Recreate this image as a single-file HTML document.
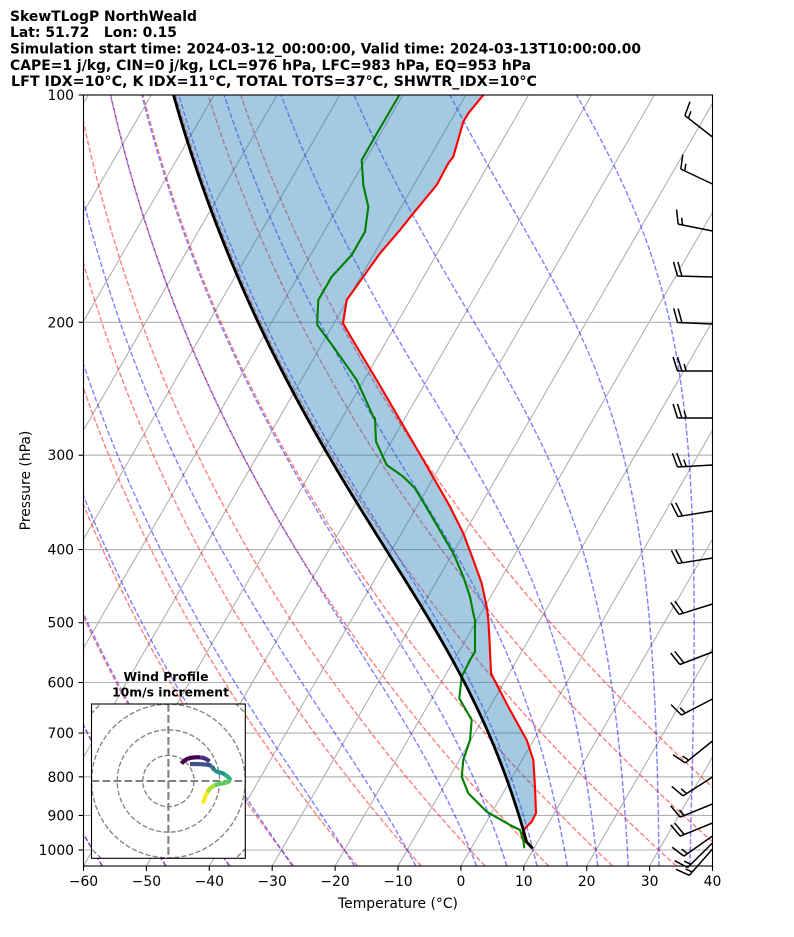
<!DOCTYPE html>
<html><head><meta charset="utf-8">
<style>
html,body{margin:0;padding:0;background:#fff;}
svg{display:block;font-family:"DejaVu Sans","Liberation Sans",sans-serif;}
</style></head>
<body>
<svg id="s" width="794" height="937" viewBox="0 0 794 937" xmlns="http://www.w3.org/2000/svg">
<defs>
<clipPath id="ax"><rect x="83.5" y="95" width="629" height="771"/></clipPath>
<clipPath id="hx"><rect x="91.5" y="704" width="153.8" height="154.3"/></clipPath>
</defs>
<rect width="794" height="937" fill="#fff"/>

<g font-weight="bold" font-size="13.9" fill="#000">
<text x="10" y="21" textLength="187" lengthAdjust="spacingAndGlyphs">SkewTLogP NorthWeald</text>
<text x="10" y="37" textLength="167" lengthAdjust="spacingAndGlyphs">Lat: 51.72&#160;&#160;&#160;Lon: 0.15</text>
<text x="10" y="53.5" textLength="631" lengthAdjust="spacingAndGlyphs">Simulation start time: 2024-03-12_00:00:00, Valid time: 2024-03-13T10:00:00.00</text>
<text x="10" y="70" textLength="521" lengthAdjust="spacingAndGlyphs">CAPE=1 j/kg, CIN=0 j/kg, LCL=976 hPa, LFC=983 hPa, EQ=953 hPa</text>
<text x="11" y="86" textLength="526" lengthAdjust="spacingAndGlyphs">LFT IDX=10°C, K IDX=11°C, TOTAL TOTS=37°C, SHWTR_IDX=10°C</text>
</g>

<g clip-path="url(#ax)">
 <g id="grid" stroke="#b0b0b0" stroke-width="1.1" fill="none"></g>
 <g id="dry" stroke="#ff0000" stroke-opacity="0.5" stroke-width="1.39" stroke-dasharray="5.1 2.2" fill="none"></g>
 <g id="moist" stroke="#0000ff" stroke-opacity="0.5" stroke-width="1.39" stroke-dasharray="5.1 2.2" fill="none"></g>
 <path id="fill" fill="#1f77b4" fill-opacity="0.4" stroke="none"/>
 <path id="Tl" stroke="#ff0000" stroke-width="2.1" fill="none" stroke-linejoin="round"/>
 <path id="Tdl" stroke="#008000" stroke-width="2.1" fill="none" stroke-linejoin="round"/>
 <path id="par" stroke="#000" stroke-width="2.8" fill="none" stroke-linejoin="round"/>
</g>

<rect x="83.5" y="95" width="629" height="771" fill="none" stroke="#000" stroke-width="1.1"/>
<g id="ticks" stroke="#000" stroke-width="1.1"></g>

<g font-size="13.9" fill="#000" text-anchor="end">
<text x="74" y="100">100</text>
<text x="74" y="327.3">200</text>
<text x="74" y="460.2">300</text>
<text x="74" y="554.6">400</text>
<text x="74" y="627.7">500</text>
<text x="74" y="687.5">600</text>
<text x="74" y="738">700</text>
<text x="74" y="781.8">800</text>
<text x="74" y="820.4">900</text>
<text x="74" y="855">1000</text>
</g>
<g font-size="13.9" fill="#000" text-anchor="middle">
<text x="83.5" y="886">−60</text>
<text x="146.4" y="886">−50</text>
<text x="209.3" y="886">−40</text>
<text x="272.2" y="886">−30</text>
<text x="335.1" y="886">−20</text>
<text x="398" y="886">−10</text>
<text x="460.9" y="886">0</text>
<text x="523.8" y="886">10</text>
<text x="586.7" y="886">20</text>
<text x="649.6" y="886">30</text>
<text x="712.5" y="886">40</text>
<text x="398" y="908">Temperature (°C)</text>
<text x="0" y="0" transform="translate(30,480.5) rotate(-90)">Pressure (hPa)</text>
</g>

<g id="barbs" stroke="#000" stroke-width="1.5" fill="none" stroke-linecap="butt"></g>

<!-- hodograph inset -->
<rect x="91.5" y="704" width="153.8" height="154.3" fill="#fff" stroke="none"/>
<g clip-path="url(#hx)" fill="none">
 <g stroke="#808080" stroke-width="1.3" stroke-dasharray="5.1 2.2">
  <circle cx="168.4" cy="781" r="25.6"/>
  <circle cx="168.4" cy="781" r="51.2"/>
  <circle cx="168.4" cy="781" r="76.8"/>
  <circle cx="168.4" cy="781" r="102.4"/>
 </g>
 <g stroke="#808080" stroke-width="2.1" stroke-dasharray="7.7 3.3">
  <line x1="168.4" y1="704" x2="168.4" y2="858.3"/>
  <line x1="91.5" y1="781" x2="245.3" y2="781"/>
 </g>
 <g id="hodo" stroke-width="4.2" stroke-linejoin="round" stroke-linecap="butt" fill="none"></g>
</g>
<rect x="91.5" y="704" width="153.8" height="154.3" fill="none" stroke="#000" stroke-width="1.1"/>
<g font-weight="bold" font-size="12.5" fill="#000" text-anchor="middle">
<text x="166" y="681" textLength="85" lengthAdjust="spacingAndGlyphs">Wind Profile</text>
<text x="170.5" y="696.5" textLength="117" lengthAdjust="spacingAndGlyphs">10m/s increment</text>
</g>
</svg>
<script>
(function(){
const X0=83.5, YT=95, YB=866, K=6.29, SK=0.57735;
function Y(p){return YT+(Math.log10(p)-2)*755;}
function X(T,p){return X0+(T+60)*K+(YB-Y(p))*SK;}
const NS='http://www.w3.org/2000/svg';
function el(tag,attrs,parent){const e=document.createElementNS(NS,tag);for(const k in attrs)e.setAttribute(k,attrs[k]);parent.appendChild(e);return e;}
function D(pts){return 'M'+pts.map(q=>q[0].toFixed(2)+','+q[1].toFixed(2)).join('L');}

// grid
const g=document.getElementById('grid');
for(let T=-180;T<=40;T+=10){el('line',{x1:X(T,1050),y1:YB,x2:X(T,100),y2:YT},g);}
for(let p=100;p<=1000;p+=100){const y=Y(p);el('line',{x1:83.5,y1:y,x2:712.5,y2:y},g);}

// ticks
const tk=document.getElementById('ticks');
for(let p=100;p<=1000;p+=100){const y=Y(p);el('line',{x1:78.6,y1:y,x2:83.5,y2:y},tk);}
for(let T=-60;T<=40;T+=10){const x=X0+(T+60)*K;el('line',{x1:x,y1:866,x2:x,y2:870.9},tk);}

// dry adiabats
const kap=0.28571;
const dry=document.getElementById('dry');
for(let t0=-60;t0<=50;t0+=10){const th=t0+273.15;const pts=[];
 for(let i=0;i<=120;i++){const p=1050-950*i/120;const T=th*Math.pow(p/1000,kap)-273.15;pts.push([X(T,p),Y(p)]);}
 el('path',{d:D(pts)},dry);}

// moist adiabats
const Rd=287.04749,Cp=1004.6662,Lv=2.50084e6,eps=0.6219569;
function es(T){const t=T-273.15;return 6.112*Math.exp(17.67*t/(t+243.5));}
function dTdp(p,T){const e=es(T);const rs=eps*e/(p-e);return (Rd*T+Lv*rs)/(Cp+Lv*Lv*rs*eps/(Rd*T*T))/p;}
function moist(T0,p0,p1,n){const out=[[p0,T0]];let T=T0,p=p0;const h=(p1-p0)/n;
 for(let i=0;i<n;i++){const k1=dTdp(p,T),k2=dTdp(p+h/2,T+h/2*k1),k3=dTdp(p+h/2,T+h/2*k2),k4=dTdp(p+h,T+h*k3);
  T+=h/6*(k1+2*k2+2*k3+k4);p+=h;out.push([p,T]);}
 return out;}
const ml=document.getElementById('moist');
const mt=[-60,-50,-40,-30,-20,-10,0,5,10,15,20,25,30,35,40];
mt.forEach(t0=>{const up=moist(t0+273.15,1000,100,300);const dn=moist(t0+273.15,1000,1050,20);
 const all=dn.slice().reverse().concat(up.slice(1));
 el('path',{d:D(all.map(q=>[X(q[1]-273.15,q[0]),Y(q[0])]))},ml);});

// parcel (bottom -> top)
const ps=994.8,Ts=9.8+273.15,pl=976;
const Tlcl=Ts*Math.pow(pl/ps,kap);
let par=[];
for(let i=0;i<=6;i++){const p=ps-(ps-pl)*i/6;par.push([X(Ts*Math.pow(p/ps,kap)-273.15,p),Y(p)]);}
moist(Tlcl,pl,100,440).slice(1).forEach(q=>par.push([X(q[1]-273.15,q[0]),Y(q[0])]));
document.getElementById('par').setAttribute('d',D(par));

// temperature (top -> bottom)
const T=[[486,91],[483.3,95],[468.3,113.3],[463.3,121.7],[453.3,156.7],[448.3,163.3],[436.7,185],[413.3,213.3],[400,230],[380,253.3],[363.3,276.7],[346.7,300],[343,323.3],[351.7,338.3],[356.7,346.7],[376.7,380],[400,420],[423.3,460],[436.7,483.3],[450,506.7],[463.3,533.3],[473.3,560],[481.7,583.3],[486.7,606.7],[488.3,620],[489.5,640],[491,673],[493.3,678],[510,710],[526.7,740],[533.3,760],[535,786.7],[536,813],[531.7,821.7],[525,828.3],[522.7,833],[524,840],[532,848.3]];
document.getElementById('Tl').setAttribute('d',D(T));
const Td=[[402,91],[399.3,95],[375,136.7],[361.7,160],[363.3,185],[368.3,206.7],[365,231.7],[351.7,255],[331.7,276.7],[318.3,300],[317.3,320],[317.3,325],[333.3,346.7],[356.7,380],[373.3,416.7],[375,418.3],[376,441.7],[386.7,465],[403.3,476.7],[415,488.3],[430,513.3],[453.3,553.3],[463.3,576.7],[470,596.7],[473.3,613.3],[475,620],[475,651.7],[470,660],[461.7,676.7],[459.3,698.3],[471.7,720],[470,740],[463.3,760],[461.7,776.7],[468.3,793.3],[486.7,811.7],[510,825],[520,830],[523.3,840],[524.3,848.3]];
document.getElementById('Tdl').setAttribute('d',D(Td));
// fill: T top->bottom, then parcel bottom->top
const fp=T.concat(par);
document.getElementById('fill').setAttribute('d',D(fp)+'Z');

// barbs
const bg=document.getElementById('barbs');
const L=35,FH=14,FW=4.4,SP=4.4;
const B=[[137,-27,-21,1,1],[184,-31.3,-14.7,1,1],[231,-35,-7,1,1],[277,-35,-1,2,0],[324,-35,-1.5,2,0],[371,-34,0,2,1],[418,-34,0,2,1],[465,-35,2,2,1],[511,-31,5,2,0],[558,-33.7,5.3,2,0],[604,-32,10,2,0],[652,-30.3,11.6,2,0],[699,-29.7,15.3,1,1],[741,-27,21.7,1,1],[777,-27,17.3,1,1],[804,-31.3,12.7,1,1],[823,-30.3,12.3,2,0],[836,-27,19,1,1],[843,-24,23.7,1,1],[849,-22,25,1,1]];
B.forEach(b=>{const y=b[0],len=Math.hypot(b[1],b[2]),ux=b[1]/len,uy=b[2]/len,nx=-uy,ny=ux;
 const bx=712.5,by=y,ex=bx+ux*L,ey=by+uy*L;
 let d='M'+bx+','+by+'L'+ex.toFixed(2)+','+ey.toFixed(2);
 let off=0;
 for(let i=0;i<b[3];i++){const px=ex-ux*off,py=ey-uy*off;
  d+='M'+px.toFixed(2)+','+py.toFixed(2)+'L'+(px+nx*FH+ux*FW).toFixed(2)+','+(py+ny*FH+uy*FW).toFixed(2);off+=SP;}
 if(b[4]){if(b[3]===0)off+=1.5*SP;const px=ex-ux*off,py=ey-uy*off;
  d+='M'+px.toFixed(2)+','+py.toFixed(2)+'L'+(px+nx*FH/2+ux*FW/2).toFixed(2)+','+(py+ny*FH/2+uy*FW/2).toFixed(2);}
 el('path',{d:d},bg);});

// hodograph
const hg=document.getElementById('hodo');
const H=[
 ['#440154',[[181.3,763.5],[184,761],[187,759],[191,757.8],[195.3,757.3],[200,757.3]]],
 ['#472d7b',[[200,757.3],[203.7,758],[207,759.5],[209.5,761.5]]],
 ['#3b528b',[[190,764],[196,764],[201,764.2],[205.3,764.5],[209,765],[211.5,766]]],
 ['#2c728e',[[211.5,766],[213,768],[214.5,770.5]]],
 ['#21918c',[[214.5,770.5],[218,772],[222,773],[225,774.5]]],
 ['#28ae80',[[225,774.5],[227.5,776.5],[229.5,778.5],[230.3,780.3]]],
 ['#5ec962',[[230.3,780.3],[228,782],[225,783],[219,784],[214.7,785.3]]],
 ['#addc30',[[214.7,785.3],[210.3,788],[207.5,792]]],
 ['#fde725',[[207.5,792],[205.5,796],[204,800],[202.7,803.5]]]
];
H.forEach(h=>el('path',{d:D(h[1]),stroke:h[0]},hg));
})();
</script>
</body></html>
